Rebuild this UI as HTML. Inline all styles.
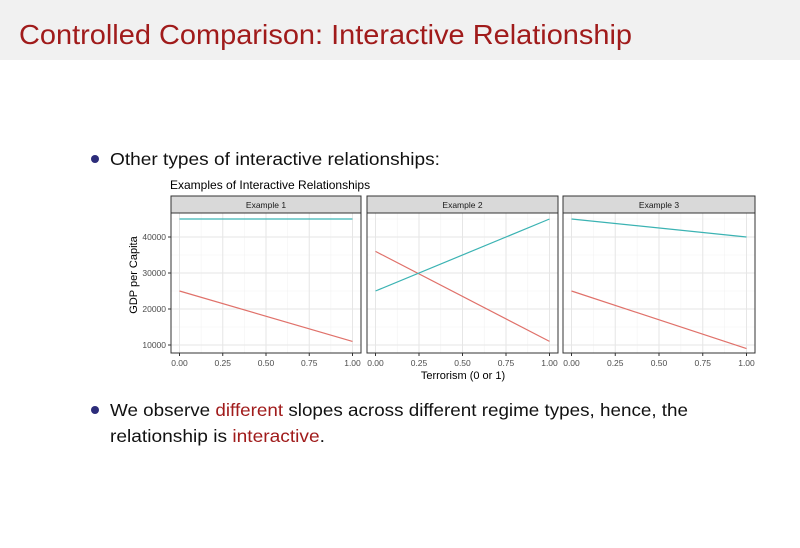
<!DOCTYPE html>
<html><head><meta charset="utf-8"><style>
body{margin:0;width:800px;height:543px;background:#fff;overflow:hidden;font-family:"Liberation Sans",sans-serif}
</style></head><body>
<svg id="s" width="800" height="543" xmlns="http://www.w3.org/2000/svg">
<rect x="0" y="0" width="800" height="60" fill="#f1f1f1"/>
<text x="19" y="44" font-size="28" fill="#a01b1b" font-family="Liberation Sans, sans-serif" textLength="613" lengthAdjust="spacingAndGlyphs">Controlled Comparison: Interactive Relationship</text>
<circle cx="95" cy="159" r="4" fill="#2c2c7a"/>
<text x="110" y="165" font-size="17.5" fill="#111" textLength="330" lengthAdjust="spacingAndGlyphs">Other types of interactive relationships:</text>
<circle cx="95" cy="410" r="4" fill="#2c2c7a"/>
<text x="110" y="416" font-size="17.5" fill="#111" textLength="578" lengthAdjust="spacingAndGlyphs">We observe <tspan fill="#a01b1b">different</tspan> slopes across different regime types, hence, the</text>
<text x="110" y="442" font-size="17.5" fill="#111" textLength="215" lengthAdjust="spacingAndGlyphs">relationship is <tspan fill="#a01b1b">interactive</tspan>.</text>
<text x="170" y="189" font-size="12" fill="#000">Examples of Interactive Relationships</text>
<text x="463" y="379" font-size="11" fill="#000" text-anchor="middle">Terrorism (0 or 1)</text>
<text transform="translate(137,275) rotate(-90)" font-size="11" fill="#000" text-anchor="middle">GDP per Capita</text>
<g id="p"></g>
</svg>
<script>
var g=document.getElementById('p'),h='';
var panels=[[171,361,[[25000,11000],[45000,45000]],'Example 1'],[367,558,[[36000,11000],[25000,45000]],'Example 2'],[563,755,[[25000,9000],[45000,40000]],'Example 3']];
function Y(v){return 345-(v-10000)*0.0036;}
panels.forEach(function(p,i){
 var L=p[0],R=p[1],x0=L+8.5,x1=R-8.5,T=213,B=353;
 function X(t){return x0+(x1-x0)*t;}
 h+='<rect x="'+L+'" y="'+T+'" width="'+(R-L)+'" height="'+(B-T)+'" fill="#fff"/>';
 for(var t=0.125;t<1;t+=0.25)h+='<line x1="'+X(t)+'" x2="'+X(t)+'" y1="'+T+'" y2="'+B+'" stroke="#f2f2f2" stroke-width="0.6"/>';
 for(var v=15000;v<50000;v+=10000)h+='<line x1="'+L+'" x2="'+R+'" y1="'+Y(v)+'" y2="'+Y(v)+'" stroke="#f2f2f2" stroke-width="0.6"/>';
 for(var t=0;t<=1;t+=0.25)h+='<line x1="'+X(t)+'" x2="'+X(t)+'" y1="'+T+'" y2="'+B+'" stroke="#e6e6e6" stroke-width="1"/>';
 for(var v=10000;v<=40000;v+=10000)h+='<line x1="'+L+'" x2="'+R+'" y1="'+Y(v)+'" y2="'+Y(v)+'" stroke="#e6e6e6" stroke-width="1"/>';
 var cols=['#e0716a','#3bb3b3'];
 p[2].forEach(function(l,j){h+='<line x1="'+x0+'" y1="'+Y(l[0])+'" x2="'+x1+'" y2="'+Y(l[1])+'" stroke="'+cols[j]+'" stroke-width="1.2"/>';});
 h+='<rect x="'+L+'" y="'+T+'" width="'+(R-L)+'" height="'+(B-T)+'" fill="none" stroke="#333" stroke-width="1"/>';
 h+='<rect x="'+L+'" y="196" width="'+(R-L)+'" height="17" fill="#d9d9d9" stroke="#333" stroke-width="1"/>';
 h+='<text x="'+((L+R)/2)+'" y="208" font-size="8.5" text-anchor="middle" fill="#1a1a1a">'+p[3]+'</text>';
 ['0.00','0.25','0.50','0.75','1.00'].forEach(function(s,k){var x=X(k*0.25);
  h+='<line x1="'+x+'" x2="'+x+'" y1="'+B+'" y2="'+(B+3)+'" stroke="#333"/>';
  h+='<text x="'+x+'" y="366" font-size="8.5" text-anchor="middle" fill="#4d4d4d">'+s+'</text>';});
 if(i==0){[10000,20000,30000,40000].forEach(function(v){
  h+='<line x1="'+(L-3)+'" x2="'+L+'" y1="'+Y(v)+'" y2="'+Y(v)+'" stroke="#333"/>';
  h+='<text x="'+(L-5)+'" y="'+(Y(v)+3)+'" font-size="8.5" text-anchor="end" fill="#4d4d4d">'+v+'</text>';});}
});
g.innerHTML=h;
</script>
</body></html>
